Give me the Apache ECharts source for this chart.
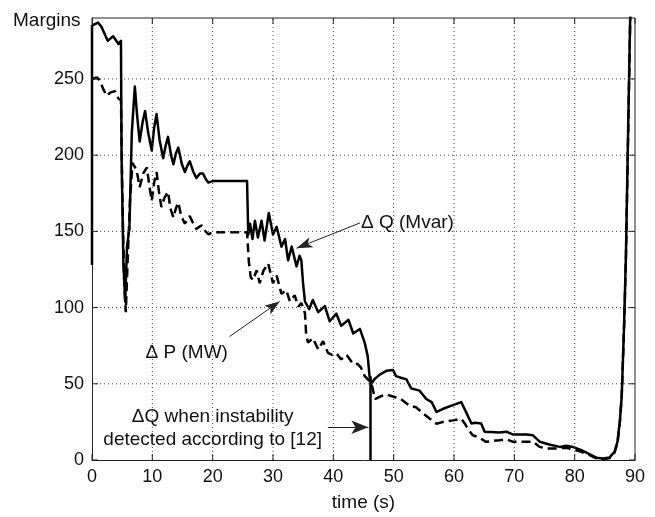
<!DOCTYPE html>
<html>
<head>
<meta charset="utf-8">
<script src="https://cdn.jsdelivr.net/npm/echarts@6/dist/echarts.min.js"></script>
<style>
  html, body { margin: 0; background: #fff; }
  #main { width: 655px; height: 517px; }
</style>
</head>
<body>
<div id="main"></div>
<script>
// axis ticks
var xTicks = [0, 10, 20, 30, 40, 50, 60, 70, 80, 90];
var yTicks = [0, 50, 100, 150, 200, 250];
var yTop = 290;

// ΔQ (Mvar) margin, solid  [time s, value]
var deltaQ = [
  [0, 128], [0, 285], [1.0, 287], [1.6, 284], [2.6, 275], [3.5, 278], [4.4, 273], [4.8, 275],
  [4.9, 200], [5.2, 130], [5.5, 104], [5.8, 140], [6.2, 152], [6.6, 215], [7.1, 245],
  [7.5, 225], [7.9, 209], [8.4, 222], [8.8, 229], [9.3, 215], [9.9, 203], [10.3, 218],
  [10.7, 227], [11.2, 210], [11.8, 198], [12.2, 206], [12.6, 212], [13.1, 200], [13.5, 194],
  [13.9, 201], [14.3, 205], [14.9, 194], [15.4, 189], [15.8, 193], [16.2, 196], [16.8, 189],
  [17.3, 185], [17.9, 188], [18.4, 188], [18.9, 184], [19.3, 182], [20, 183], [22, 183],
  [24, 183], [25.7, 183], [25.9, 148], [26.2, 155], [26.6, 145], [27.0, 157], [27.5, 146],
  [28.1, 157], [28.6, 144], [29.3, 162], [30.0, 148], [30.6, 153], [31.4, 140], [32.0, 145],
  [32.5, 131], [33.1, 140], [33.9, 127], [34.4, 134], [34.7, 131], [35.0, 115], [35.3, 104],
  [36.0, 99], [36.6, 105], [37.5, 97], [38.6, 101], [39.4, 91], [40.5, 96], [41.3, 88],
  [42.5, 92], [43.3, 83], [44.4, 86], [45.2, 77], [45.7, 68], [46.0, 55], [46.3, 50],
  [46.8, 53], [47.7, 56], [48.8, 58.5], [49.9, 59], [50.4, 55], [51.2, 54], [52.1, 53],
  [52.9, 47], [54.3, 45.5], [55.4, 40], [56.3, 38], [57.1, 31.5], [58.2, 33.6], [59.6, 35.7],
  [61.2, 38], [62.0, 31.4], [62.9, 24], [63.5, 24.5], [64.5, 24], [65.1, 18.4], [66.2, 18.4],
  [67.5, 18], [68.7, 18.6], [69.8, 16.7], [72.0, 16.7], [73.1, 16.2], [74.2, 12], [75.8, 10.2],
  [77.5, 8.6], [78.6, 9.3], [79.7, 8.6], [81.1, 6.5], [82.2, 4.3], [83.6, 1.5], [84.7, 1],
  [85.8, 1.7], [86.6, 5.4], [87.1, 12], [87.5, 26], [87.8, 42], [88.2, 90], [88.5, 135],
  [88.9, 225], [89.2, 290], [89.3, 305]
];

// ΔP (MW) margin, dashed
var deltaP = [
  [0, 250], [0.8, 251], [1.3, 249], [1.8, 244], [2.4, 239], [3.0, 241], [3.8, 242], [4.4, 237],
  [4.8, 236], [5.0, 180], [5.3, 120], [5.6, 97], [5.9, 130], [6.3, 170], [6.7, 195], [7.4, 190],
  [7.9, 179], [8.5, 188], [9.1, 192], [9.5, 180], [9.9, 170], [10.3, 182], [10.7, 189],
  [11.1, 176], [11.5, 166], [12.0, 172], [12.6, 176], [13.0, 165], [13.5, 159], [13.9, 165],
  [14.3, 169], [14.8, 160], [15.4, 155], [15.8, 158], [16.2, 160], [16.8, 155], [17.3, 151.5],
  [17.8, 153], [18.2, 154], [18.8, 150], [19.3, 148], [20, 149.5], [22, 149.5], [24, 149.5],
  [25.7, 149.5], [26.0, 130], [26.3, 120], [26.7, 118], [27.3, 124.5], [27.8, 116], [28.4, 124],
  [29.2, 129], [30.0, 116], [30.6, 121], [31.4, 109], [32.2, 111.5], [32.8, 104], [33.6, 108],
  [34.2, 100.6], [34.7, 103], [35.3, 96.3], [35.5, 82], [35.8, 77], [36.6, 80], [37.5, 72.5],
  [38.3, 78], [39.1, 70.3], [39.8, 69], [40.5, 70], [41.3, 66], [42.2, 69], [43.3, 62.8],
  [44.0, 63], [44.6, 60.6], [45.2, 55], [45.7, 53], [46.3, 50.8], [46.9, 40], [48.0, 42],
  [48.8, 43], [49.6, 42], [50.4, 41], [51.2, 40], [52.6, 35.7], [53.7, 34.6], [54.9, 30.5],
  [56.0, 27], [57.1, 23.8], [58.2, 25], [59.8, 26], [61.2, 27], [61.8, 23.8], [62.3, 20.5],
  [63.1, 16.2], [64.1, 15], [65.3, 11.9], [66.4, 12.5], [67.5, 13], [68.7, 13.6], [69.8, 11.9],
  [73.1, 11.9], [74.2, 8.6], [75.3, 7.6], [77.0, 7.6], [78.6, 8], [79.7, 7], [81.1, 5.4],
  [82.5, 3.2], [83.6, 1.1], [84.7, 0.5], [85.8, 1.3], [86.6, 4.8], [87.1, 11], [87.5, 25],
  [87.8, 42], [88.2, 88], [88.5, 133], [88.9, 222], [89.2, 288], [89.3, 305]
];

// instability detected according to [12]
var instability = [46.1, 55];

// arrows: [from], [to]  (data coords)
var arrowQ = [[44.4, 155.5], [33.9, 139]];
var arrowP = [[22.8, 81], [31.1, 104]];
var arrowI = [[39.1, 21.5], [45.8, 21.5]];

// text notes
var noteText = ['Δ Q (Mvar)', 'Δ P (MW)', 'ΔQ when instability', 'detected according to [12]'];
var noteAt = [[44.5, 155.8], [8.8, 70.5], [20, 28.6], [20, 13.6]];
var notePos = ['right', 'right', 'inside', 'inside'];

var font = '"Liberation Sans", Arial, Helvetica, sans-serif';
var ink = '#111';
var xMin = xTicks[0], xMax = xTicks[xTicks.length - 1];
var tickX = 1, tickY = 3.9;   // ~6px inward ticks, in axis units

// grid / tick / frame paths, broken with '-' between segments
var gridPath = [], tickPath = [];
xTicks.forEach(function (x) {
  if (x > xMin && x < xMax) gridPath.push([x, 0], [x, yTop], [x, '-']);
  tickPath.push([x, 0], [x, tickY], [x, '-'], [x, yTop - tickY], [x, yTop], [x, '-']);
});
yTicks.forEach(function (y) {
  if (y > 0) gridPath.push([xMin, y], [xMax, y], [xMax, '-']);
  tickPath.push([xMin, y], [xMin + tickX, y], [xMin, '-'], [xMax - tickX, y], [xMax, y], [xMax, '-']);
});
var framePath = [[xMin, yTop], [xMax, yTop], [xMax, 0]];

function arrow(pair, size) {
  return [
    { coord: pair[0], symbol: 'none', lineStyle: { type: 'solid', color: '#222', width: 1 } },
    { coord: pair[1], symbol: 'arrow', symbolSize: size }
  ];
}

function guide(name, data, style) {
  return {
    name: name, type: 'line', data: data, symbol: 'none', showSymbol: false,
    silent: true, clip: false, connectNulls: false, z: 3,
    lineStyle: style, emphasis: { disabled: true }
  };
}

var chart = echarts.init(document.getElementById('main'));

chart.setOption({
  animation: false,
  backgroundColor: '#fff',
  title: {
    text: 'Margins', left: 13, top: 11, padding: 0,
    textStyle: { fontFamily: font, fontSize: 19, fontWeight: 'normal', color: ink }
  },
  grid: { left: 92, right: 20, top: 18, bottom: 52 },
  xAxis: {
    type: 'value', min: xMin, max: xMax, interval: 10,
    name: 'time (s)', nameLocation: 'middle', nameGap: 33,
    nameTextStyle: { fontFamily: font, fontSize: 19, color: ink },
    axisLine: { show: true, onZero: false, lineStyle: { color: '#222', width: 1 } },
    axisTick: { show: false },
    axisLabel: { fontFamily: font, fontSize: 18, color: ink, margin: 8 },
    splitLine: { show: false }
  },
  yAxis: {
    type: 'value', min: yTicks[0], max: yTop, interval: 50,
    axisLine: { show: true, onZero: false, lineStyle: { color: '#222', width: 1 } },
    axisTick: { show: false },
    axisLabel: {
      fontFamily: font, fontSize: 18, color: ink, margin: 8,
      formatter: function (v) { return yTicks.indexOf(v) >= 0 ? String(v) : ''; }
    },
    splitLine: { show: false }
  },
  series: [{
    name: 'ΔQ', type: 'line', data: deltaQ, showSymbol: false, symbol: 'none',
    lineStyle: { color: '#000', width: 2.5, join: 'round' },
    markLine: {
      silent: true, symbol: 'none', label: { show: false },
      lineStyle: { type: 'solid', color: '#000', width: 2.5 },
      data: [[{ coord: [instability[0], 0] }, { coord: instability }]]
    },
    markPoint: {
      silent: true, symbol: 'rect', symbolSize: 1, itemStyle: { color: 'rgba(0,0,0,0)' },
      data: noteText.map(function (t, i) {
        return {
          coord: noteAt[i],
          label: {
            show: true, position: notePos[i], distance: 0, formatter: t,
            fontFamily: font, fontSize: 19, color: ink
          }
        };
      })
    }
  }, {
    name: 'ΔP', type: 'line', data: deltaP, showSymbol: false, symbol: 'none',
    lineStyle: { color: '#000', width: 2.5, type: [9, 5] },
    markLine: {
      silent: true, symbol: 'none', label: { show: false },
      data: [arrow(arrowQ, [8, 16]), arrow(arrowP, [8, 15]), arrow(arrowI, [10, 17])]
    }
  },
  guide('grid', gridPath, { color: '#444', width: 1, type: [1, 3] }),
  guide('ticks', tickPath, { color: '#222', width: 1, type: 'solid' }),
  guide('frame', framePath, { color: '#222', width: 1, type: 'solid' })
  ]
});
</script>
</body>
</html>
